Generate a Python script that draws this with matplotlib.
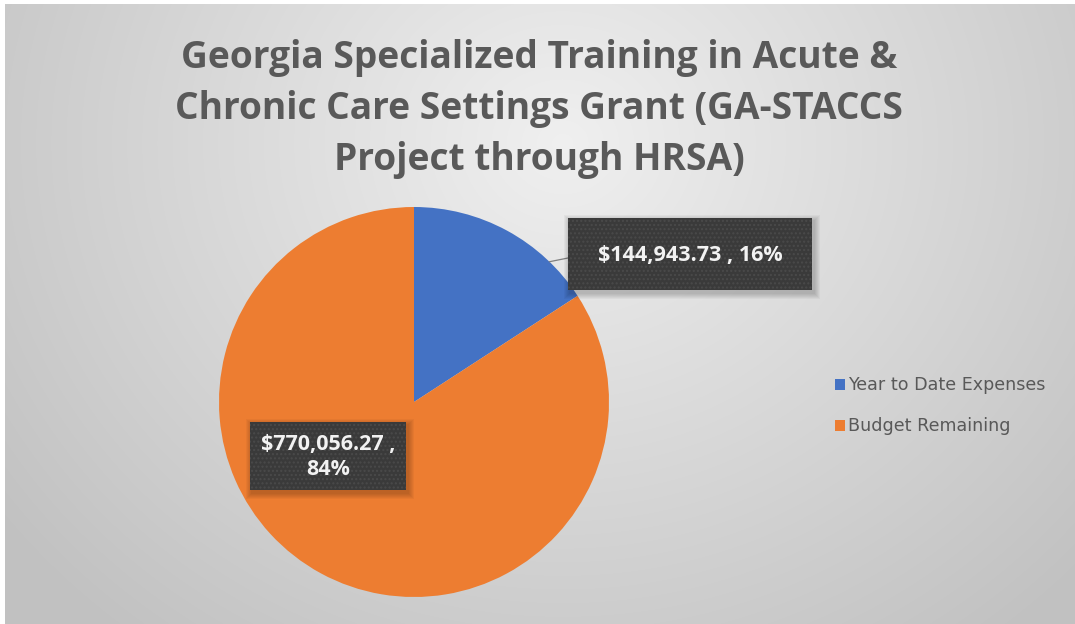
import numpy as np
import matplotlib
matplotlib.use("Agg")
import matplotlib.pyplot as plt
from matplotlib.patches import Rectangle

# Chart data
categories = ["Year to Date Expenses", "Budget Remaining"]
amounts = [144943.73, 770056.27]
colors = ["#4472C4", "#ED7D31"]
title = "Georgia Specialized Training in Acute &\nChronic Care Settings Grant (GA-STACCS\nProject through HRSA)"

W, H = 1075, 624
plt.rcParams['font.family'] = ['Open Sans', 'DejaVu Sans']

fig = plt.figure(figsize=(W / 100, H / 100), dpi=100)
fig.patch.set_facecolor("white")

# background axes in pixel coordinates
bg = fig.add_axes([0, 0, 1, 1], zorder=0)
bg.axis("off")

# soft radial grey background of the chart area
yy, xx = np.mgrid[0:H, 0:W]
dist = np.sqrt((xx - 560) ** 2 + ((yy - 140) / 0.9) ** 2)
shade = np.clip(0.94 - dist / 700 * 0.18, 0.76, 0.94)
img = np.dstack([shade, shade, shade])
bg.imshow(img, extent=(5, W, H, 4), zorder=0, aspect="auto")
bg.set_xlim(0, W)
bg.set_ylim(H, 0)

# Pie
cx, cy, r = 414, 402, 195
pie_ax = fig.add_axes([(cx - r) / W, (H - cy - r) / H, 2 * r / W, 2 * r / H], zorder=1)
pie_ax.pie(amounts, colors=colors, startangle=90, counterclock=False,
           wedgeprops=dict(linewidth=0))
pie_ax.set_aspect("auto")
pie_ax.set_xlim(-1, 1)
pie_ax.set_ylim(-1, 1)

# overlay axes for title, labels and legend
top = fig.add_axes([0, 0, 1, 1], zorder=2)
top.set_xlim(0, W)
top.set_ylim(H, 0)
top.axis("off")
top.patch.set_alpha(0)

top.text(539, 109, title, ha="center", va="center", fontsize=26.7, fontweight="bold",
         color="#595959", linespacing=1.45)

total = sum(amounts)
labels = [f"${amounts[0]:,.2f} , {amounts[0] / total:.0%}",
          f"${amounts[1]:,.2f} ,\n{amounts[1] / total:.0%}"]
boxes = [(568, 218, 244, 72), (250, 422, 156, 68)]

# leader line for the small slice
ang = np.deg2rad(46)
top.plot([cx + r * np.cos(ang), 568], [cy - r * np.sin(ang), 258],
         color="#7f7f7f", lw=0.9, zorder=4)

for (x0, y0, w, h), lab in zip(boxes, labels):
    for k in range(6, 0, -1):
        top.add_patch(Rectangle((x0 + 2 - k, y0 + 3 - k), w + 2 * k, h + 2 * k,
                                facecolor="black", alpha=0.035, edgecolor="none", zorder=5))
    top.add_patch(Rectangle((x0, y0), w, h, facecolor="#3a3a3a", edgecolor="none", zorder=6))
    top.add_patch(Rectangle((x0, y0), w, h, fill=False, hatch="....", edgecolor="#4a4a4a",
                            linewidth=0, zorder=7))
    top.text(x0 + w / 2, y0 + h / 2 + 1, lab, ha="center", va="center", fontsize=15.5,
             fontweight="bold", color="#f2f2f2", linespacing=1.25, zorder=8)

# Legend
leg_y = [385, 426]
for cat, col, ly in zip(categories, colors, leg_y):
    top.add_patch(Rectangle((835, ly - 6), 10, 11, facecolor=col, edgecolor="none", zorder=5))
    top.text(848, ly, cat, ha="left", va="center", fontsize=12.6, color="#595959",
             family="DejaVu Sans", zorder=5)

fig.savefig("out.png", dpi=100)
